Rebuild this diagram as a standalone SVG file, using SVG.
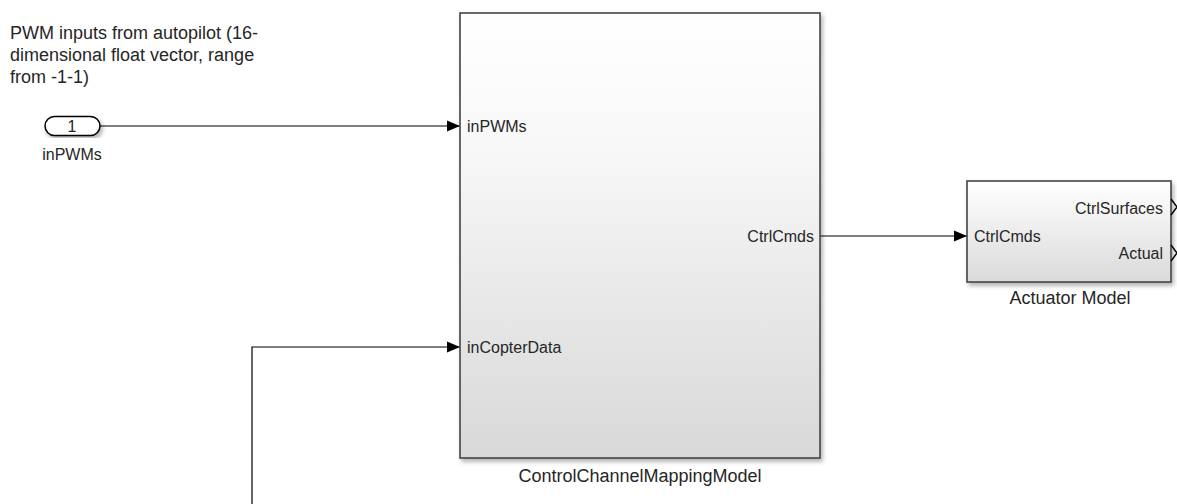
<svg xmlns="http://www.w3.org/2000/svg" width="1177" height="504" viewBox="0 0 1177 504">
  <style>
    .t { font-family: "Liberation Sans", Arial, sans-serif; fill: #262626; }
    .port { font-size: 16px; }
    .lbl { font-size: 18px; }
    .blk { stroke: #444; stroke-width: 1.6; }
    .wire { stroke: #000; stroke-width: 1.2; fill: none; }
  </style>
  <defs>
    <linearGradient id="g" x1="0" y1="0" x2="0" y2="1">
      <stop offset="0" stop-color="#ffffff"/>
      <stop offset="0.3" stop-color="#f8f8f8"/>
      <stop offset="1" stop-color="#d8d8d8"/>
    </linearGradient>
    <linearGradient id="g2" x1="0" y1="0" x2="0" y2="1">
      <stop offset="0" stop-color="#ffffff"/>
      <stop offset="1" stop-color="#dadada"/>
    </linearGradient>
    <filter id="sh" x="-5%" y="-5%" width="115%" height="115%">
      <feDropShadow dx="2" dy="3" stdDeviation="2" flood-color="#000" flood-opacity="0.3"/>
    </filter>
    <marker id="arr" markerUnits="userSpaceOnUse" markerWidth="14" markerHeight="12" refX="13" refY="6" orient="auto">
      <path d="M0,0.5 L13,6 L0,11.5 Z" fill="#000"/>
    </marker>
  </defs>

  <g id="annotation">
    <text class="t lbl" x="10" y="39">PWM inputs from autopilot (16-</text>
    <text class="t lbl" x="10" y="61">dimensional float vector, range</text>
    <text class="t lbl" x="10" y="83">from -1-1)</text>
  </g>

  <g id="inport-inPWMs">
    <rect x="45" y="116.5" width="55" height="19" rx="9.5" fill="#fff" stroke="#000" stroke-width="1.5" filter="url(#sh)"/>
    <text class="t port" x="72" y="132" text-anchor="middle">1</text>
    <text class="t port" x="72" y="160" text-anchor="middle">inPWMs</text>
  </g>

  <g id="connectors">
    <line class="wire" x1="100" y1="126" x2="460" y2="126" marker-end="url(#arr)"/>
    <line class="wire" x1="820" y1="236" x2="967" y2="236" marker-end="url(#arr)"/>
    <polyline class="wire" points="252,504 252,347 460,347" marker-end="url(#arr)"/>
  </g>

  <g id="ControlChannelMappingModel">
    <rect class="blk" x="460" y="13" width="360" height="445" fill="url(#g)" filter="url(#sh)"/>
    <text class="t port" x="467" y="132">inPWMs</text>
    <text class="t port" x="467" y="353">inCopterData</text>
    <text class="t port" x="814" y="242" text-anchor="end">CtrlCmds</text>
    <text class="t lbl" x="640" y="482" text-anchor="middle">ControlChannelMappingModel</text>
  </g>

  <g id="ActuatorModel">
    <rect class="blk" x="967" y="181" width="204" height="101" fill="url(#g2)" filter="url(#sh)"/>
    <text class="t port" x="974" y="242">CtrlCmds</text>
    <text class="t port" x="1163" y="214" text-anchor="end">CtrlSurfaces</text>
    <text class="t port" x="1163" y="259" text-anchor="end">Actual</text>
    <polyline points="1171,199 1177,207 1171,215" fill="none" stroke="#000" stroke-width="1.4"/>
    <polyline points="1171,245 1177,253 1171,261" fill="none" stroke="#000" stroke-width="1.4"/>
    <text class="t lbl" x="1070" y="304" text-anchor="middle">Actuator Model</text>
  </g>
</svg>
